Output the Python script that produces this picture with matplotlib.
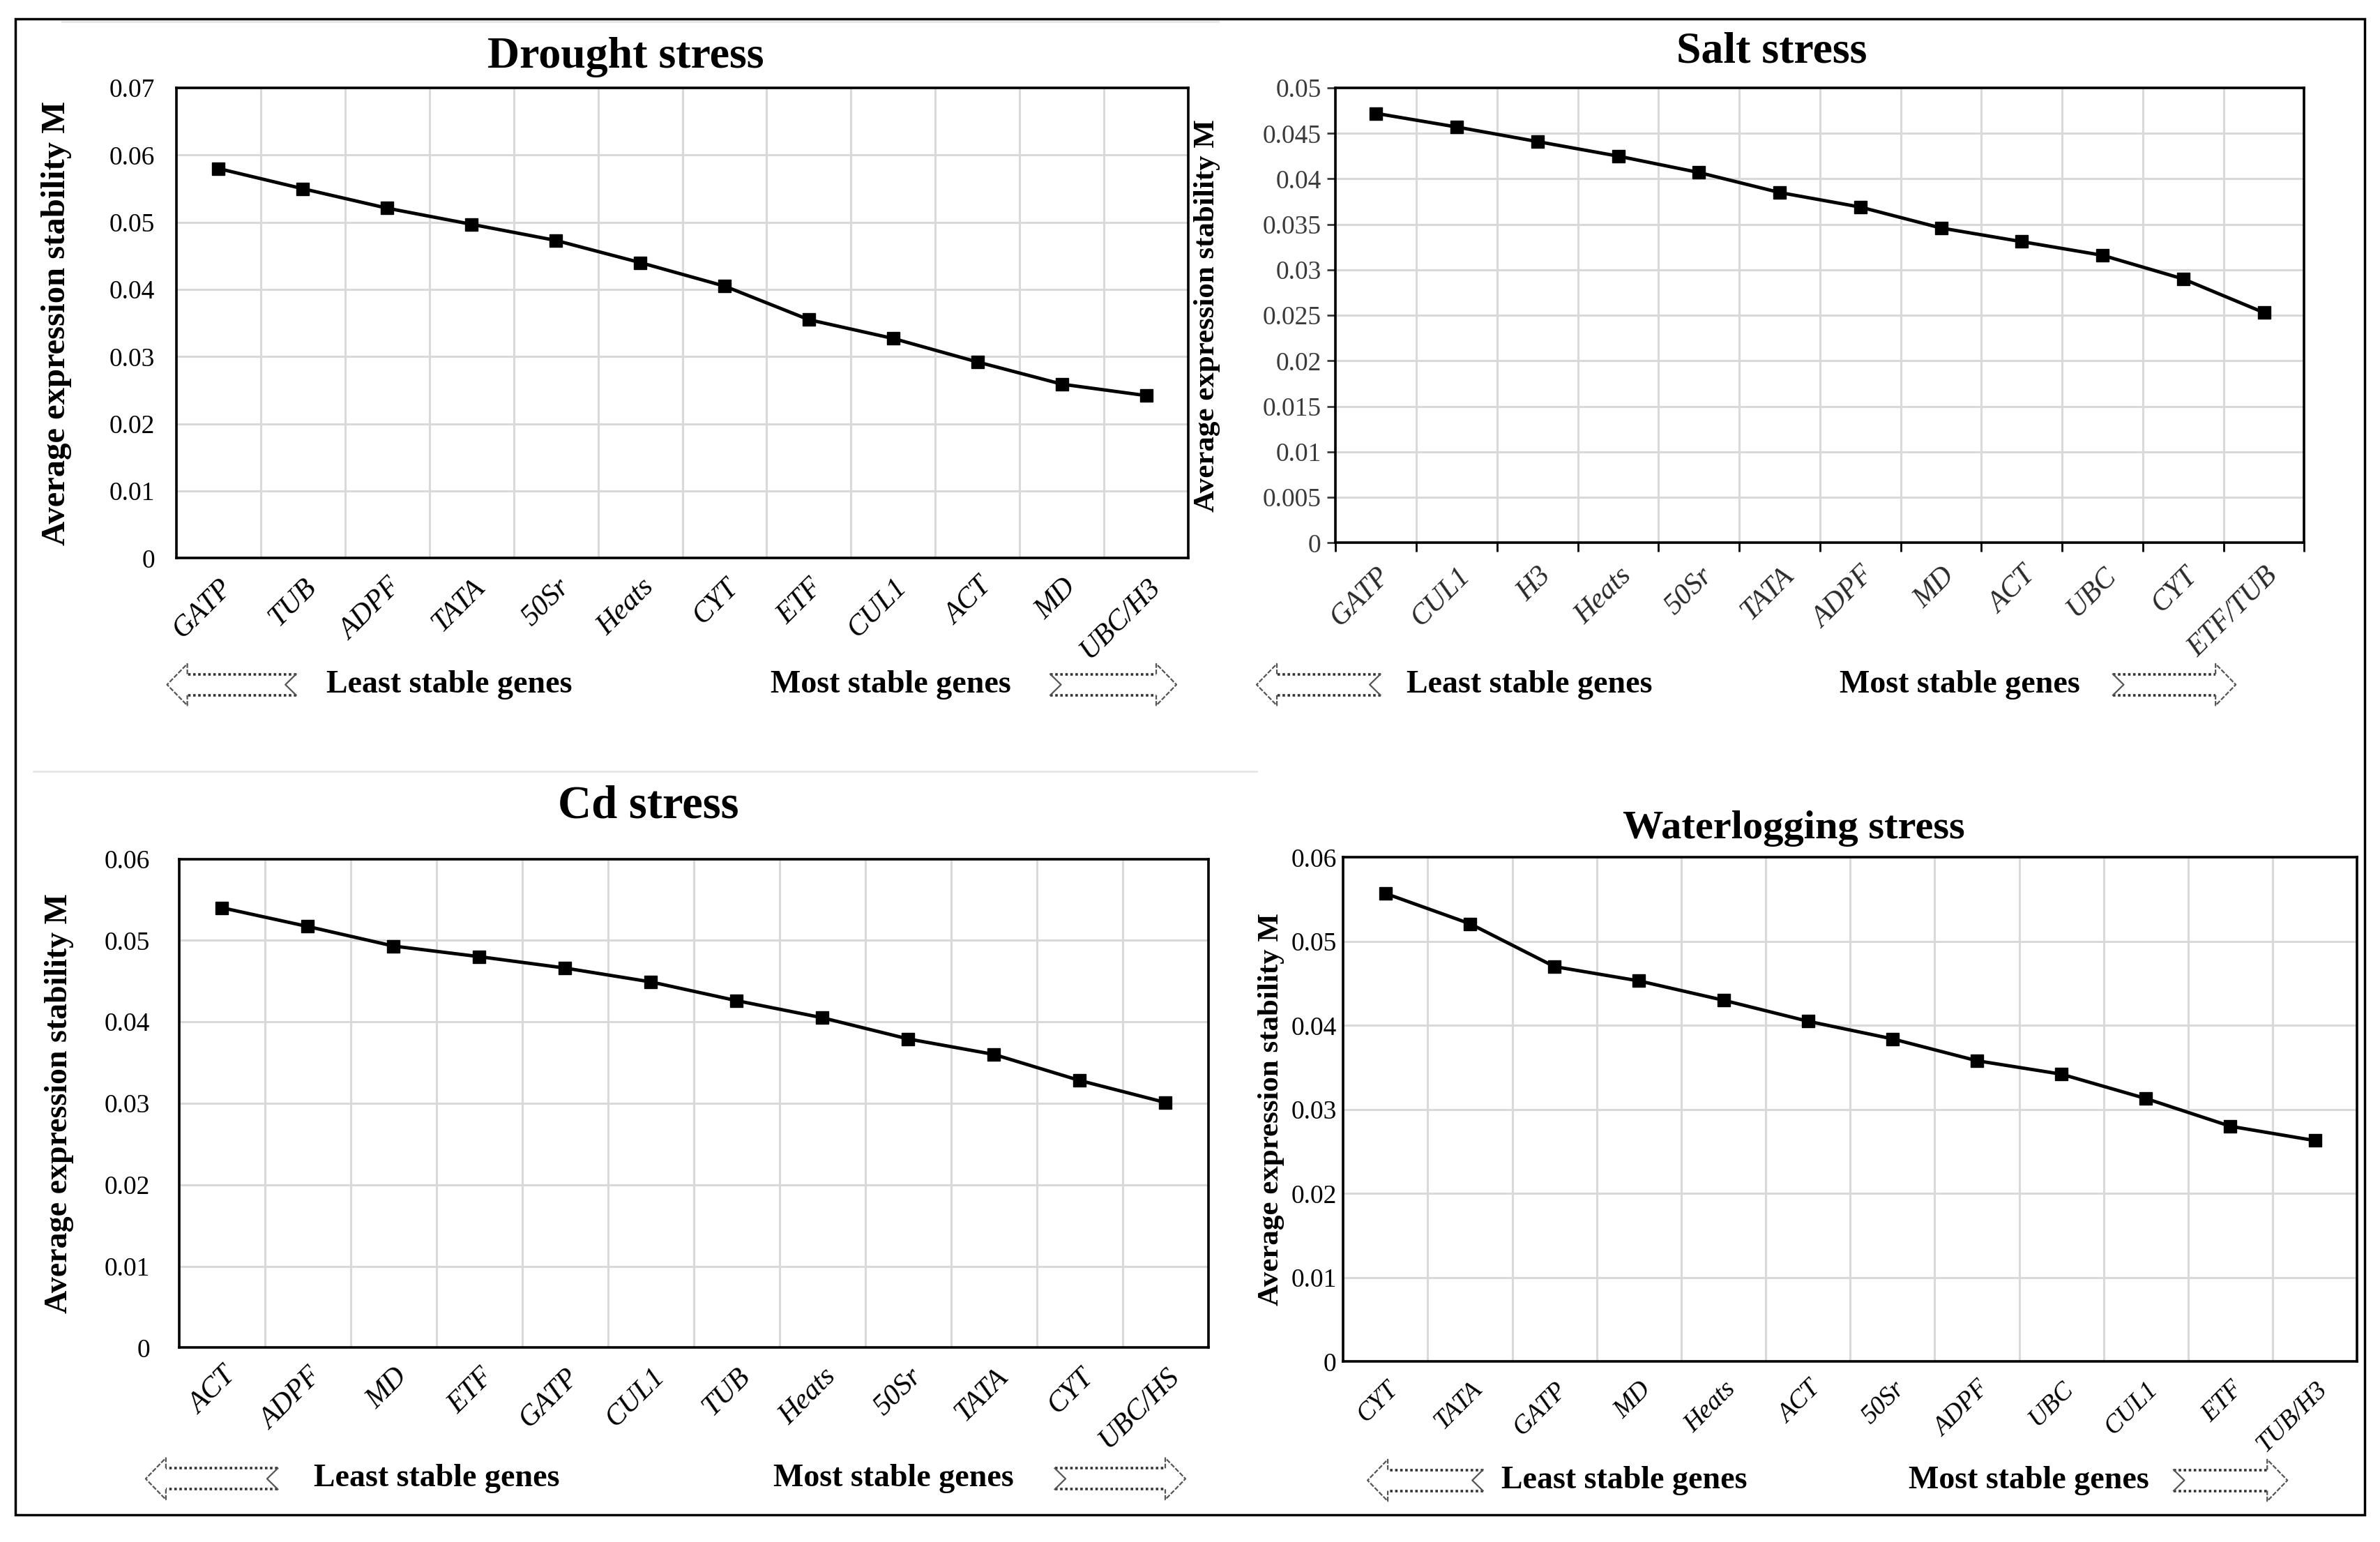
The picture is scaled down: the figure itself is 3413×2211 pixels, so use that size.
import numpy as np
import matplotlib
matplotlib.use("Agg")
import matplotlib.pyplot as plt
from matplotlib.lines import Line2D
from matplotlib.patches import Rectangle
from matplotlib.ticker import FuncFormatter

plt.rcParams['font.family'] = ['Liberation Serif', 'DejaVu Serif']

# geNorm average expression stability M under four stresses
drought_genes = ["GATP", "TUB", "ADPF", "TATA", "50Sr", "Heats", "CYT", "ETF", "CUL1", "ACT", "MD", "UBC/H3"]
drought_m = [0.0580, 0.0550, 0.0521, 0.0497, 0.0473, 0.0440, 0.0405, 0.0355, 0.0327, 0.0292, 0.0259, 0.0242]

salt_genes = ["GATP", "CUL1", "H3", "Heats", "50Sr", "TATA", "ADPF", "MD", "ACT", "UBC", "CYT", "ETF/TUB"]
salt_m = [0.0472, 0.0457, 0.0441, 0.0425, 0.0407, 0.0385, 0.0369, 0.0346, 0.0331, 0.0316, 0.0290, 0.0253]

cd_genes = ["ACT", "ADPF", "MD", "ETF", "GATP", "CUL1", "TUB", "Heats", "50Sr", "TATA", "CYT", "UBC/HS"]
cd_m = [0.0540, 0.0517, 0.0493, 0.0480, 0.0466, 0.0449, 0.0426, 0.0405, 0.0379, 0.0360, 0.0328, 0.0301]

water_genes = ["CYT", "TATA", "GATP", "MD", "Heats", "ACT", "50Sr", "ADPF", "UBC", "CUL1", "ETF", "TUB/H3"]
water_m = [0.0557, 0.0521, 0.0470, 0.0453, 0.0430, 0.0405, 0.0384, 0.0358, 0.0342, 0.0313, 0.0280, 0.0263]

YLABEL = "Average expression stability M"

fig = plt.figure(figsize=(34.13, 22.11), dpi=100)


def excel_fmt(v, pos):
    return f"{v:.3f}".rstrip('0').rstrip('.')


def panel(rect, genes, vals, ymax, ystep, ylab_x, ylab_size, ypad, xsize=30, salt=False):
    ax = fig.add_axes(rect)
    n = len(genes)
    x = np.arange(n)
    ax.plot(x, vals, color='black', lw=3.5, marker='s', ms=13, zorder=3, clip_on=False)
    ax.set_xlim(-0.5, n - 0.5)
    ax.set_ylim(0, ymax)
    ax.set_yticks(np.arange(0, ymax + ystep / 2, ystep))
    ax.yaxis.set_major_formatter(FuncFormatter(excel_fmt))
    ax.set_xticks(x)
    ax.set_xticks(np.arange(-0.5, n, 1.0), minor=True)
    ax.set_xticklabels(genes, rotation=45, ha='right', va='top',
                       rotation_mode='anchor', fontstyle='italic', fontsize=xsize)
    ax.grid(True, axis='y', color='#d9d9d9', lw=2.2)
    ax.grid(True, axis='x', which='minor', color='#d9d9d9', lw=2.2)
    ax.set_axisbelow(True)
    if salt:
        ax.tick_params(axis='y', length=9, width=2, pad=6, labelsize=27, colors='#3a3a3a')
        ax.tick_params(axis='x', which='major', length=0, pad=20, colors='#2a2a2a')
        ax.tick_params(axis='x', which='minor', length=9, width=2)
    else:
        ax.tick_params(axis='y', length=0, pad=ypad, labelsize=27)
        ax.tick_params(axis='x', which='both', length=0, pad=16)
    for s in ax.spines.values():
        s.set_linewidth(2.6)
        s.set_color('black')
    ax.set_ylabel(YLABEL, fontsize=ylab_size, fontweight='bold')
    ax.yaxis.set_label_coords(ylab_x, 0.5)
    return ax


def arrow(x0, x1, y, direction):
    tr = fig.transFigure
    hl, bh, hh, nt = 0.0085, 0.0068, 0.0135, 0.0045
    if direction == 'right':
        xb, xt, xh = x1 - hl, x0, x1
        sgn = 1
    else:
        xb, xt, xh = x0 + hl, x1, x0
        sgn = -1
    notch = xt + sgn * nt
    # dotted body
    for yy in (y + bh, y - bh):
        fig.add_artist(Line2D([xt, xb], [yy, yy], transform=tr, color='#333333',
                              lw=2.6, linestyle=(0, (1, 1))))
    # head and notched tail
    fig.add_artist(Line2D([xb, xb, xh, xb, xb], [y + bh, y + hh, y, y - hh, y - bh],
                          transform=tr, color='#555555', lw=1.6, linestyle=(0, (3, 1))))
    fig.add_artist(Line2D([xt, notch, xt], [y + bh, y, y - bh],
                          transform=tr, color='#555555', lw=1.6))


def labels(xl, xm, y, ax0, ax1, bx0, bx1):
    arrow(ax0, ax1, y, 'left')
    arrow(bx0, bx1, y, 'right')
    fig.text(xl, y, "Least stable genes", ha='center', va='center',
             fontsize=33, fontweight='bold')
    fig.text(xm, y, "Most stable genes", ha='center', va='center',
             fontsize=33, fontweight='bold')


# drought
panel([0.074, 0.638, 0.4254, 0.305], drought_genes, drought_m, 0.07, 0.01, -0.103, 35, 22)
fig.text(0.2628, 0.9630, "Drought stress", ha='center', va='center', fontsize=46, fontweight='bold')
labels(0.1888, 0.3744, 0.556, 0.0702, 0.1244, 0.4413, 0.4943)

# salt
panel([0.5612, 0.648, 0.407, 0.295], salt_genes, salt_m, 0.05, 0.005, -0.119, 31, 6, salt=True)
fig.text(0.7443, 0.9665, "Salt stress", ha='center', va='center', fontsize=46, fontweight='bold')
labels(0.6425, 0.8233, 0.556, 0.528, 0.580, 0.8878, 0.9394)

# Cd
panel([0.0753, 0.126, 0.4324, 0.317], cd_genes, cd_m, 0.06, 0.01, -0.102, 33, 30)
fig.text(0.2723, 0.4773, "Cd stress", ha='center', va='center', fontsize=48, fontweight='bold')
labels(0.1834, 0.3753, 0.041, 0.0612, 0.1167, 0.4432, 0.4981)

# waterlogging
panel([0.5644, 0.117, 0.426, 0.327], water_genes, water_m, 0.06, 0.01, -0.058, 31, 7, xsize=27)
fig.text(0.7538, 0.4625, "Waterlogging stress", ha='center', va='center', fontsize=42, fontweight='bold')
labels(0.6824, 0.8524, 0.040, 0.5746, 0.6231, 0.9133, 0.9611)

# faint separators and outer frame
fig.add_artist(Line2D([0.026, 0.512], [0.986, 0.986], transform=fig.transFigure, color='#e6e6e6', lw=2))
fig.add_artist(Line2D([0.014, 0.528], [0.500, 0.500], transform=fig.transFigure, color='#e6e6e6', lw=2))
fig.add_artist(Rectangle((0.0064, 0.0175), 0.9872, 0.9705, transform=fig.transFigure,
                         fill=False, edgecolor='black', lw=2.5))

fig.savefig("out.png", dpi=100)
